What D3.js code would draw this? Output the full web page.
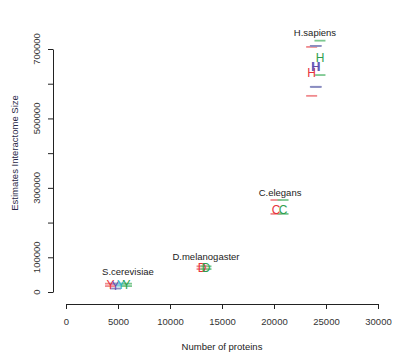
<!DOCTYPE html>
<html><head><meta charset="utf-8">
<script src="https://cdn.jsdelivr.net/npm/d3@7"></script>
<style>body{margin:0;background:#fff}svg{display:block}text{font-family:"Liberation Sans",Arial,sans-serif}</style>
</head><body>
<svg id="c" width="398" height="356"></svg>
<script>
// ---- data ----
const organisms = ["S.cerevisiae","D.melanogaster","C.elegans","H.sapiens"];
const orgLetter = ["Y","D","C","H"];
const labelX = [5960, 13460, 20580, 23940];
const labelY = [49000, 92000, 276000, 737000];
// estimates: organism index, method, number of proteins, size, lower, upper
const estOrg    = [0,0,0,0, 1,1, 2,2, 3,3,3,3];
const estMethod = ["red","purple","cyan","green", "red","green", "red","green", "red","blue","purple","green"];
const estX      = [4280,4760,5290,5820, 13080,13460, 20190,20870, 23620,23980,24060,24420];
const estY      = [20000,18000,21000,20000, 70000,70000, 236000,236000, 632000,650000,648000,675000];
const estLo     = [17000,10000,18000,17000, 66000,66000, 225000,225000, 565000,591000,591000,625000];
const estHi     = [24000,24000,24000,24000, 74000,74000, 265000,265000, 706000,709000,709000,724000];
const xTicks = [0,5000,10000,15000,20000,25000,30000];
const yTicks = [0,100000,200000,300000,400000,500000,600000,700000];
const yLabels = [0,100000,300000,500000,700000];

const colors = {red:"#e8323c", purple:"#6a4aa8", blue:"#3a52c4", cyan:"#2fb5c6", green:"#2e9e4e"};
const lineColors = {red:"#f08a8e", purple:"#8a8cc0", blue:"#8890c4", cyan:"#7fcfd8", green:"#7cc890"};

const svg = d3.select("#c");
const x = d3.scaleLinear().domain([0,30000]).range([66,378]);
const y = d3.scaleLinear().domain([0,700000]).range([292,49]);

// x axis
const xa = svg.append("g").attr("transform","translate(0,304)")
  .call(d3.axisBottom(x).tickValues(xTicks).tickSize(5).tickSizeOuter(0).tickPadding(9).tickFormat(d3.format("d")));
xa.selectAll("path,line").attr("stroke","#222");
xa.selectAll("text").attr("font-size","9.5px").attr("fill","#333").attr("font-family","Liberation Sans, Arial, sans-serif");

// y axis
const ya = svg.append("g").attr("transform","translate(53,0)")
  .call(d3.axisLeft(y).tickValues(yTicks).tickSize(5).tickSizeOuter(0).tickFormat(""));
ya.selectAll("path,line").attr("stroke","#222");
svg.append("g").selectAll("text").data(yLabels).join("text")
  .attr("transform", d => `translate(40,${y(d)}) rotate(-90)`)
  .attr("text-anchor","middle").attr("font-size","9.5px").attr("fill","#333")
  .text(d => d3.format("d")(d));

// titles
svg.append("text").attr("x",222).attr("y",350).attr("text-anchor","middle")
  .attr("font-size","9.5px").attr("fill","#222").text("Number of proteins");
svg.append("text").attr("transform","translate(18,153) rotate(-90)").attr("text-anchor","middle")
  .attr("font-size","9.5px").attr("fill","#2a2a48").text("Estimates Interactome Size");

// interval marks
const idx = d3.range(estX.length);
const marks = svg.append("g");
idx.forEach(i => {
  [estHi[i], estLo[i]].forEach(v => {
    marks.append("line")
      .attr("x1", x(estX[i]) - 5.5).attr("x2", x(estX[i]) + 5.5)
      .attr("y1", y(v)).attr("y2", y(v))
      .attr("stroke", lineColors[estMethod[i]]).attr("stroke-width", 1.8);
  });
});
// letter markers
svg.append("g").selectAll("text").data(idx).join("text")
  .attr("x", i => x(estX[i])).attr("y", i => y(estY[i]))
  .attr("dy","0.36em").attr("text-anchor","middle").attr("font-size","12px")
  .attr("fill", i => colors[estMethod[i]])
  .text(i => orgLetter[estOrg[i]]);

// organism labels
svg.append("g").selectAll("text").data(organisms).join("text")
  .attr("x",(d,i)=>x(labelX[i])).attr("y",(d,i)=>y(labelY[i]))
  .attr("text-anchor","middle").attr("font-size","9.5px").attr("fill","#222")
  .text(d=>d);
</script>
</body></html>
